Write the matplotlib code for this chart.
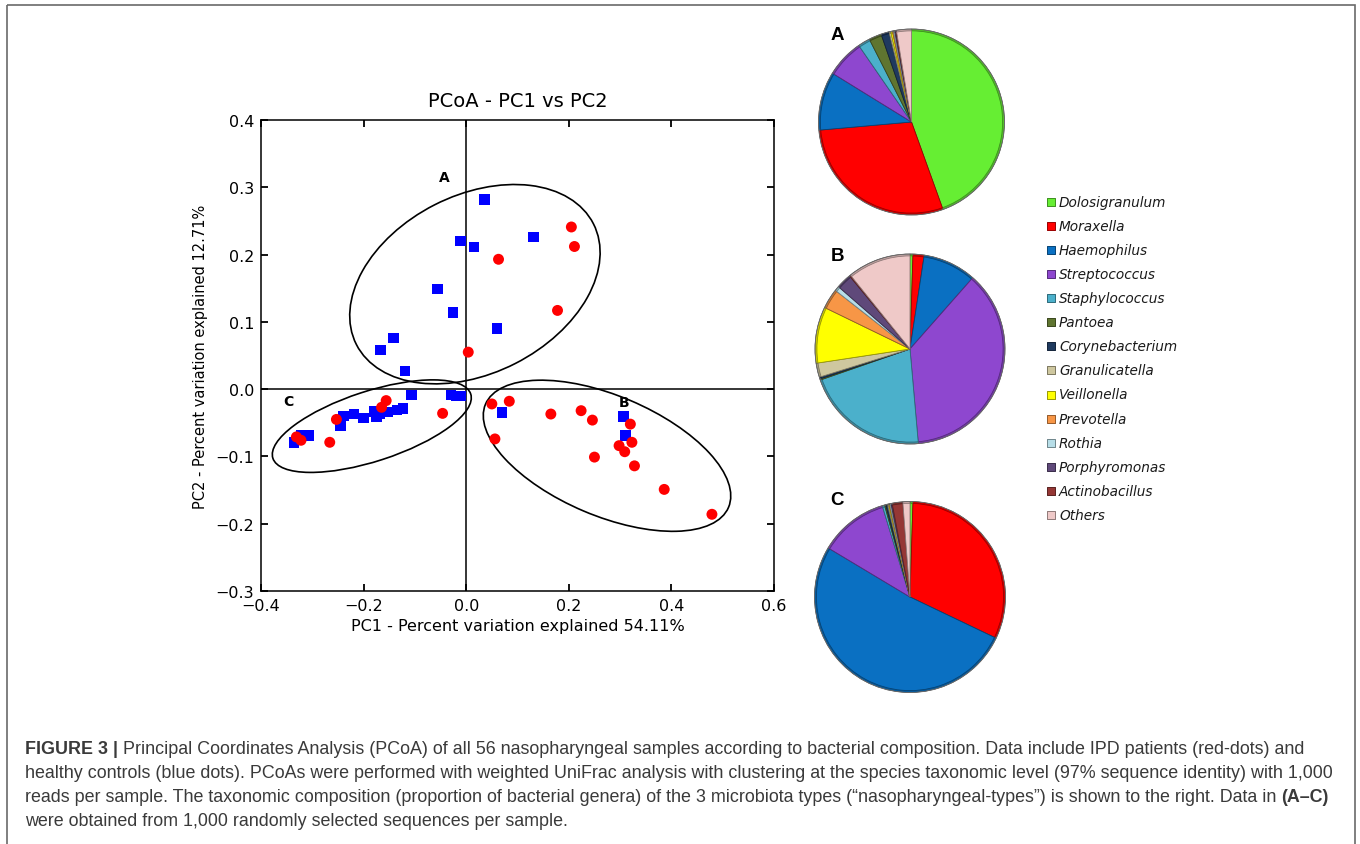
import matplotlib
matplotlib.use("Agg")
import matplotlib.pyplot as plt
import numpy as np
from matplotlib.patches import Ellipse, Rectangle, Circle
from matplotlib.transforms import Affine2D
from matplotlib.colors import to_rgb

W, H = 1360, 845

# PCoA scores
blue_pc1 = [0.036, -0.011, 0.015, 0.131, -0.056, -0.026, 0.060, -0.142, -0.167, -0.119,
            -0.107, -0.030, -0.020, -0.011, 0.070, 0.307, 0.311, -0.123, -0.135, -0.153,
            -0.168, -0.175, -0.180, -0.200, -0.219, -0.239, -0.245, -0.307, -0.322, -0.336]
blue_pc2 = [0.282, 0.220, 0.211, 0.226, 0.149, 0.114, 0.090, 0.076, 0.058, 0.027,
            -0.009, -0.009, -0.010, -0.010, -0.035, -0.041, -0.069, -0.029, -0.031, -0.034,
            -0.036, -0.041, -0.033, -0.043, -0.037, -0.040, -0.055, -0.069, -0.069, -0.079]
red_pc1 = [0.205, 0.211, 0.063, 0.178, 0.004, -0.046, 0.050, 0.084, 0.056, 0.165,
           0.224, 0.246, 0.250, 0.320, 0.323, 0.298, 0.309, 0.328, 0.386, 0.479,
           -0.156, -0.165, -0.253, -0.266, -0.331, -0.322]
red_pc2 = [0.241, 0.212, 0.193, 0.117, 0.055, -0.036, -0.022, -0.018, -0.074, -0.037,
           -0.032, -0.046, -0.101, -0.052, -0.079, -0.084, -0.093, -0.114, -0.149, -0.186,
           -0.017, -0.027, -0.045, -0.079, -0.071, -0.076]

# cluster outlines: centre (data), semi axes (px), angle (deg)
clusters = {
    "A": ((0.017, 0.156), 133, 89, 27),
    "B": ((0.2745, -0.099), 132, 60, -23),
    "C": ((-0.184, -0.055), 104, 35, 18),
}
cluster_labels = {"A": (-0.043, 0.315), "B": (0.3075, -0.019), "C": (-0.346, -0.018)}

genera = ["Dolosigranulum", "Moraxella", "Haemophilus", "Streptococcus", "Staphylococcus",
          "Pantoea", "Corynebacterium", "Granulicatella", "Veillonella", "Prevotella",
          "Rothia", "Porphyromonas", "Actinobacillus", "Others"]
genus_colors = ["#66EE33", "#FF0000", "#0A70C2", "#8E47CF", "#4BB0CB", "#5F7530", "#1F3A5F",
                "#CEC79F", "#FFFF00", "#F79646", "#B7DEE8", "#5F497A", "#953735", "#EFC9C8"]

# percent composition of the three nasopharyngeal types
type_a = [44.5, 29.1, 10.2, 6.6, 2.1, 2.2, 1.4, 0.3, 0.3, 0.2, 0.2, 0.2, 0.1, 2.6]
type_b = [0.5, 1.9, 9.1, 37.1, 21.1, 0.2, 0.3, 2.4, 9.6, 3.4, 0.8, 2.6, 0.2, 10.8]
type_c = [0.5, 31.6, 51.5, 11.7, 0.4, 0.2, 0.3, 0.2, 0.1, 0.1, 0.2, 0.2, 1.8, 1.2]

caption_lines = [
    ("FIGURE 3 |", " Principal Coordinates Analysis (PCoA) of all 56 nasopharyngeal samples "
     "according to bacterial composition. Data include IPD patients (red-dots) and", ""),
    ("", "healthy controls (blue dots). PCoAs were performed with weighted UniFrac analysis "
     "with clustering at the species taxonomic level (97% sequence identity) with 1,000", ""),
    ("", "reads per sample. The taxonomic composition (proportion of bacterial genera) of the "
     "3 microbiota types (\u201cnasopharyngeal-types\u201d) is shown to the right. Data in ", "(A\u2013C)"),
    ("", "were obtained from 1,000 randomly selected sequences per sample.", ""),
]


def px_axes(fig, x0, y0, x1, y1):
    return fig.add_axes([x0 / W, 1 - y1 / H, (x1 - x0) / W, (y1 - y0) / H])


def shade(c, f):
    return tuple(np.array(to_rgb(c)) * f)


fig = plt.figure(figsize=(W / 100, H / 100), dpi=100)

# overlay in pixel coordinates for frame, legend and caption
ov = px_axes(fig, 0, 0, W, H)
ov.set_xlim(0, W)
ov.set_ylim(H, 0)
ov.axis("off")
ov.add_patch(Rectangle((7, 6), 1348, 860, fill=False, edgecolor="#6a6a6a", lw=1.2, clip_on=False))

# ---- PCoA scatter ----
ax = px_axes(fig, 261, 121, 774, 592)
ax.set_xlim(-0.4, 0.6)
ax.set_ylim(-0.3, 0.4)
ax.axvline(0, color="black", lw=1.1, zorder=1)
ax.axhline(0, color="black", lw=1.1, zorder=1)

sx = 513 / 1.0
sy = 471 / 0.7
for key, (c, a, b, ang) in clusters.items():
    e = Ellipse((c[0] * sx, c[1] * sy), 2 * a, 2 * b, angle=ang, fill=False,
                edgecolor="black", lw=1.2,
                transform=Affine2D().scale(1 / sx, 1 / sy) + ax.transData, zorder=2)
    ax.add_patch(e)
    lx, ly = cluster_labels[key]
    ax.text(lx, ly, key, fontsize=10, fontweight="bold", ha="center", va="center")

ax.scatter(blue_pc1, blue_pc2, marker="s", s=58, color="#0000FF", edgecolors="none", zorder=3)
ax.scatter(red_pc1, red_pc2, marker="o", s=62, color="#FF0000", edgecolors="none", zorder=4)

ax.set_xticks(np.arange(-0.4, 0.61, 0.2))
ax.set_yticks(np.arange(-0.3, 0.41, 0.1))
ax.tick_params(direction="in", top=True, right=True, length=5, width=1.3,
               labelsize=11.5, pad=5)
for sp in ax.spines.values():
    sp.set_linewidth(1.1)
ax.set_title("PCoA - PC1 vs PC2", fontsize=14, pad=10)
ax.set_xlabel("PC1 - Percent variation explained 54.11%", fontsize=11.5, labelpad=4)
ax.set_ylabel("PC2 - Percent variation explained 12.71%", fontsize=10.5, labelpad=5)

# ---- pies (thin darker rim + face to mimic the bevelled look) ----
pies = [("A", type_a, 911.5, 123, 93, 35), ("B", type_b, 910, 350, 95, 257),
        ("C", type_c, 910, 598, 95.5, 501)]
for name, vals, cx, cy, r, ty in pies:
    pax = px_axes(fig, cx - r - 2, cy - r - 2, cx + r + 2, cy + r + 2)
    pax.pie(vals, colors=[shade(c, 0.8) for c in genus_colors], startangle=90,
            counterclock=False, radius=1,
            wedgeprops=dict(linewidth=0.4, edgecolor="#505050"))
    wedges, _ = pax.pie(vals, colors=genus_colors, startangle=90, counterclock=False,
                        radius=0.98, wedgeprops=dict(linewidth=0.6))
    for w, c in zip(wedges, genus_colors):
        w.set_edgecolor(shade(c, 0.6))
    pax.add_patch(Circle((0, 0), 1, fill=False, edgecolor="#666666", lw=0.6))
    lim = (r + 2) / r
    pax.set_xlim(-lim, lim)
    pax.set_ylim(-lim, lim)
    ov.text(837, ty, name, fontsize=13.5, fontweight="bold", family="Liberation Sans",
            ha="center", va="center")

# ---- legend ----
for i, (g, c) in enumerate(zip(genera, genus_colors)):
    y = 202.7 + 24.1 * i
    ov.scatter([1051], [y], marker="s", s=28, color=c, edgecolors=shade(c, 0.6),
               linewidths=0.7)
    ov.text(1059, y, g, fontsize=9.8, style="italic", color="#1a1a1a", ha="left", va="center")

# ---- caption ----
cap_kw = dict(fontsize=12.9, family="Liberation Sans", color="#3a3a3a", va="center")
for i, (pre, body, post) in enumerate(caption_lines):
    y = 750 + 24 * i
    if pre:
        t = ov.text(25, y, pre, fontweight="bold", ha="left", **cap_kw)
        t = ov.annotate(body, xy=(1, 0.5), xycoords=t, ha="left", **cap_kw)
    else:
        t = ov.text(25, y, body, ha="left", **cap_kw)
    if post:
        ov.annotate(post, xy=(1, 0.5), xycoords=t, ha="left", fontweight="bold", **cap_kw)

fig.savefig("out.png", dpi=100)
